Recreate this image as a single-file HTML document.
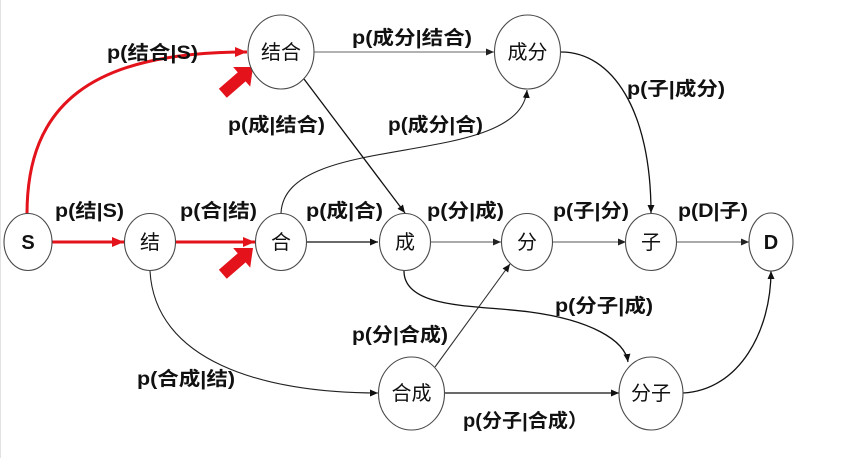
<!DOCTYPE html>
<html><head><meta charset="utf-8"><style>
html,body{margin:0;padding:0;background:#fff;}
svg{display:block;}
.lb{font-family:"Liberation Sans","Noto Sans CJK SC",sans-serif;font-weight:bold;font-size:19px;fill:#111;}
.nd{font-family:"Liberation Sans","Noto Sans CJK SC",sans-serif;font-size:20px;fill:#111;}
.nb{font-family:"Liberation Sans","Noto Sans CJK SC",sans-serif;font-weight:bold;font-size:20px;fill:#111;}
</style></head><body>
<svg width="850" height="458" viewBox="0 0 850 458" xmlns="http://www.w3.org/2000/svg">
<defs>
<marker id="ab" markerUnits="userSpaceOnUse" markerWidth="10" markerHeight="8" refX="8" refY="3.5" orient="auto"><path d="M0,0 L8,3.5 L0,7 z" fill="#111"/></marker>
<marker id="ag" markerUnits="userSpaceOnUse" markerWidth="10" markerHeight="8" refX="8" refY="3.5" orient="auto"><path d="M0,0 L8,3.5 L0,7 z" fill="#222"/></marker>
<marker id="ar" markerUnits="userSpaceOnUse" markerWidth="14" markerHeight="12" refX="12" refY="5" orient="auto"><path d="M0,0 L12,5 L0,10 z" fill="#e3121b"/></marker>
</defs>
<rect x="0" y="0" width="850" height="458" fill="#fff"/>
<line x1="0.5" y1="0" x2="0.5" y2="458" stroke="#e2e2e2" stroke-width="1"/>

<!-- red edges -->
<path d="M52,242 L124,242" stroke="#e3121b" stroke-width="3" fill="none" marker-end="url(#ar)"/>
<path d="M175,242 L255,242" stroke="#e3121b" stroke-width="3" fill="none" marker-end="url(#ar)"/>
<path d="M27,214 C27,105 90,52 247,52" stroke="#e3121b" stroke-width="3" fill="none" marker-end="url(#ar)"/>

<!-- block arrows -->
<polygon points="0,-6 25,-6 25,-13 40,0 25,13 25,6 0,6" fill="#e3121b" transform="translate(253,67) rotate(-41) translate(-40,0)"/>
<polygon points="0,-6 25,-6 25,-13 40,0 25,13 25,6 0,6" fill="#e3121b" transform="translate(253,248) rotate(-41) translate(-40,0)"/>

<!-- black/gray edges -->
<g fill="none" stroke-width="1.3">
<path d="M314,52 L494,52" stroke="#666" stroke-width="1" marker-end="url(#ag)"/>
<path d="M304,79 L405,213" stroke="#111" marker-end="url(#ab)"/>
<path d="M281,213 C285,130 520,170 527,90" stroke="#222" stroke-width="1.1" marker-end="url(#ab)"/>
<path d="M561,52 C612,52 651,110 651,213" stroke="#111" marker-end="url(#ab)"/>
<path d="M306,242 L378,242" stroke="#111" marker-end="url(#ab)"/>
<path d="M430,242 L501,242" stroke="#555" stroke-width="1" marker-end="url(#ag)"/>
<path d="M552,242 L626,242" stroke="#555" stroke-width="1" marker-end="url(#ag)"/>
<path d="M677,242 L749,242" stroke="#555" stroke-width="1" marker-end="url(#ag)"/>
<path d="M150,271 C155,360 260,393 378,393" stroke="#222" stroke-width="1.1" marker-end="url(#ab)"/>
<path d="M435,367 L510,264" stroke="#333" stroke-width="1.1" marker-end="url(#ab)"/>
<path d="M445,393 L619,393" stroke="#111" marker-end="url(#ab)"/>
<path d="M404,271 C404,310 480,305 530,312 C590,320 625,340 628,362" stroke="#111" marker-end="url(#ab)"/>
<path d="M683,393 C740,390 771,330 771,271" stroke="#111" marker-end="url(#ab)"/>
</g>

<!-- nodes -->
<g fill="#fff" stroke="#4a4a4a" stroke-width="1.1">
<ellipse cx="28" cy="242" rx="24" ry="28.5"/>
<ellipse cx="150" cy="242" rx="25.5" ry="28.5"/>
<ellipse cx="281" cy="242" rx="25.5" ry="28.5"/>
<ellipse cx="405" cy="242" rx="25.5" ry="28.5"/>
<ellipse cx="527" cy="242" rx="25.5" ry="28.5"/>
<ellipse cx="651" cy="242" rx="25.5" ry="28.5"/>
<ellipse cx="771" cy="242" rx="22" ry="29"/>
<ellipse cx="281" cy="52" rx="33" ry="37"/>
<ellipse cx="527.5" cy="52" rx="33" ry="37"/>
<ellipse cx="411.5" cy="393.5" rx="33" ry="36.5"/>
<ellipse cx="651" cy="393.5" rx="32" ry="36.5"/>
</g>

<g text-anchor="middle">
<text class="nb" x="28" y="249">S</text>
<text class="nd" x="150" y="249">结</text>
<text class="nd" x="281" y="249">合</text>
<text class="nd" x="405" y="249">成</text>
<text class="nd" x="527" y="249">分</text>
<text class="nd" x="651" y="249">子</text>
<text class="nb" x="771" y="249">D</text>
<text class="nd" x="281" y="59">结合</text>
<text class="nd" x="527.5" y="59">成分</text>
<text class="nd" x="411.5" y="400">合成</text>
<text class="nd" x="651" y="400">分子</text>
</g>

<!-- labels -->
<text class="lb" x="107" y="59" textLength="91" lengthAdjust="spacingAndGlyphs">p(结合|S)</text>
<text class="lb" x="352" y="44" textLength="120" lengthAdjust="spacingAndGlyphs">p(成分|结合)</text>
<text class="lb" x="228" y="131" textLength="97" lengthAdjust="spacingAndGlyphs">p(成|结合)</text>
<text class="lb" x="388" y="131" textLength="95" lengthAdjust="spacingAndGlyphs">p(成分|合)</text>
<text class="lb" x="627" y="95" textLength="98" lengthAdjust="spacingAndGlyphs">p(子|成分)</text>
<text class="lb" x="55" y="217" textLength="69" lengthAdjust="spacingAndGlyphs">p(结|S)</text>
<text class="lb" x="180" y="217" textLength="77" lengthAdjust="spacingAndGlyphs">p(合|结)</text>
<text class="lb" x="306" y="217" textLength="77" lengthAdjust="spacingAndGlyphs">p(成|合)</text>
<text class="lb" x="427" y="217" textLength="77" lengthAdjust="spacingAndGlyphs">p(分|成)</text>
<text class="lb" x="553" y="217" textLength="76" lengthAdjust="spacingAndGlyphs">p(子|分)</text>
<text class="lb" x="678" y="217" textLength="70" lengthAdjust="spacingAndGlyphs">p(D|子)</text>
<text class="lb" x="555" y="312" textLength="98" lengthAdjust="spacingAndGlyphs">p(分子|成)</text>
<text class="lb" x="352" y="341" textLength="96" lengthAdjust="spacingAndGlyphs">p(分|合成)</text>
<text class="lb" x="137" y="385" textLength="98" lengthAdjust="spacingAndGlyphs">p(合成|结)</text>
<text class="lb" x="463" y="427" textLength="125" lengthAdjust="spacingAndGlyphs">p(分子|合成）</text>
</svg>
</body></html>
